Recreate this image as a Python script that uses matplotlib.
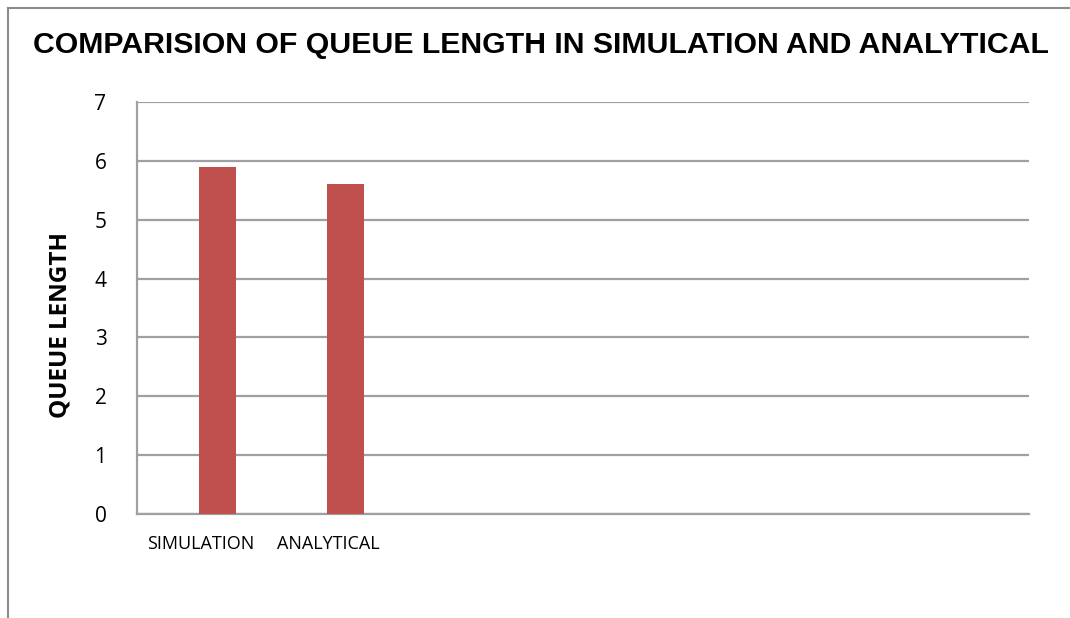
import matplotlib
matplotlib.use("Agg")
import matplotlib.pyplot as plt
from matplotlib.lines import Line2D
import numpy as np

categories = ["SIMULATION", "ANALYTICAL", "", "", "", "", ""]
queue_length = [5.9, 5.6]
y_ticks = [0, 1, 2, 3, 4, 5, 6, 7]

fig = plt.figure(figsize=(10.7, 6.18), dpi=100)
ax = fig.add_axes([137 / 1070, 1 - 514 / 618, (1029 - 137) / 1070, (514 - 102) / 618])

x = np.arange(len(categories))
ax.bar(x[:len(queue_length)] + 0.135, queue_length, width=0.29, color="#C0504D", zorder=3)

ax.set_xlim(-0.5, len(categories) - 0.5)
ax.set_ylim(0, 7)
ax.set_yticks(y_ticks)
ax.set_xticks(x)
ax.set_xticklabels(categories, fontsize=13, family="Open Sans")
ax.tick_params(axis="y", labelsize=15, length=0, pad=22)
ax.tick_params(axis="x", length=0, pad=15)
for lbl in ax.get_yticklabels():
    lbl.set_family("Open Sans")

ax.grid(axis="y", color="#a0a0a0", linewidth=1.6, zorder=0)
for side in ["top", "right"]:
    ax.spines[side].set_visible(False)
for side in ["left", "bottom"]:
    ax.spines[side].set_color("#a0a0a0")
    ax.spines[side].set_linewidth(1.6)

ax.set_ylabel("QUEUE LENGTH", fontsize=17.5, fontweight="bold", family="Open Sans")
ax.yaxis.set_label_coords(-0.072, 0.459)

fig.suptitle("COMPARISION OF QUEUE LENGTH IN SIMULATION AND ANALYTICAL",
             x=541 / 1070, y=1 - 45 / 618, va="center",
             fontsize=21.8, fontweight="bold", family="Liberation Sans")

# outer chart frame (top and left edges)
fig.add_artist(Line2D([8 / 1070, 1], [1 - 8 / 618, 1 - 8 / 618], color="#8c8c8c", linewidth=1.5))
fig.add_artist(Line2D([8 / 1070, 8 / 1070], [0, 1 - 8 / 618], color="#8c8c8c", linewidth=1.5))

fig.savefig("out.png", dpi=100)
